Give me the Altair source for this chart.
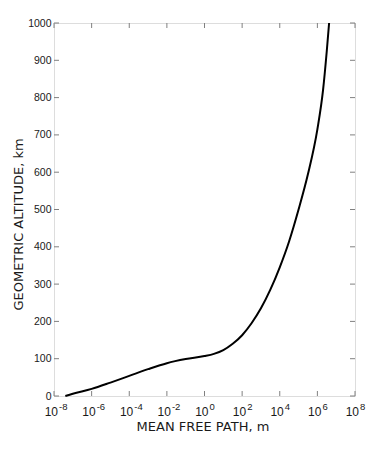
import altair as alt
import pandas as pd

# Curve: mean free path (m) vs geometric altitude (km)
mean_free_path = [4.0e-8, 1.0e-7, 1.0e-6, 1.0e-5, 1.0e-4, 1.0e-3, 1.0e-2, 1.0e-1,
                  1.0, 3.16, 10.0, 31.6, 100.0, 316.0, 1000.0, 3162.0, 1.0e4,
                  3.16e4, 1.0e5, 3.16e5, 1.0e6, 2.0e6, 3.16e6, 4.2e6]
altitude = [0, 6, 19, 36, 54, 72, 88, 99, 107, 113, 123, 140, 163, 195, 235,
            285, 345, 415, 500, 595, 715, 820, 925, 1000]

# Axis ticks / labels
x_ticks = [1e-8, 1e-6, 1e-4, 1e-2, 1e0, 1e2, 1e4, 1e6, 1e8]
x_exponents = ["-8", "-6", "-4", "-2", "0", "2", "4", "6", "8"]
y_ticks = [0, 100, 200, 300, 400, 500, 600, 700, 800, 900, 1000]

W, H = 301, 373
FRAME = "#808080"
INK = "#1a1a1a"

curve = pd.DataFrame({"mfp": mean_free_path, "alt": altitude})
xt = pd.DataFrame({"v": x_ticks, "exp": x_exponents, "base": ["10"] * len(x_ticks)})
yt = pd.DataFrame({"v": y_ticks})

xscale = alt.Scale(type="log", domain=[1e-8, 1e8], nice=False)
yscale = alt.Scale(domain=[0, 1000], nice=False, zero=False)

line = alt.Chart(curve).mark_line(color="black", strokeWidth=2, interpolate="monotone").encode(
    x=alt.X("mfp:Q", scale=xscale,
            axis=alt.Axis(title="MEAN FREE PATH, m", labels=False, ticks=False, domain=False,
                          grid=False, titleFont="DejaVu Sans", titleFontSize=13,
                          titleFontWeight="normal", titleColor=INK, titleX=W / 2 - 2,
                          titleY=34, titleBaseline="alphabetic")),
    y=alt.Y("alt:Q", scale=yscale,
            axis=alt.Axis(title="GEOMETRIC ALTITUDE, km", values=y_ticks, format="d",
                          ticks=False, domain=False, grid=False,
                          labelFont="Liberation Sans", labelFontSize=10.5,
                          labelColor=INK, labelPadding=3,
                          titleFont="DejaVu Sans", titleFontSize=13,
                          titleFontWeight="normal", titleColor=INK, titleX=-32,
                          titleY=201, titleBaseline="alphabetic",
                          titleAlign="center")),
)

bottom_ticks = alt.Chart(xt).mark_rule(color=FRAME, strokeWidth=1).encode(
    x=alt.X("v:Q", scale=xscale, axis=None), y=alt.value(H), y2=alt.value(H - 5))
top_ticks = alt.Chart(xt).mark_rule(color=FRAME, strokeWidth=1).encode(
    x=alt.X("v:Q", scale=xscale, axis=None), y=alt.value(0), y2=alt.value(5))
left_ticks = alt.Chart(yt).mark_rule(color=FRAME, strokeWidth=1).encode(
    y=alt.Y("v:Q", scale=yscale, axis=None), x=alt.value(0), x2=alt.value(5))
right_ticks = alt.Chart(yt).mark_rule(color=FRAME, strokeWidth=1).encode(
    y=alt.Y("v:Q", scale=yscale, axis=None), x=alt.value(W - 5), x2=alt.value(W))

base_labels = alt.Chart(xt).mark_text(
    align="right", baseline="alphabetic", dx=4, font="Liberation Sans", fontSize=12,
    color=INK).encode(
    x=alt.X("v:Q", scale=xscale, axis=None), y=alt.value(H + 20), text="base:N")
exp_labels = alt.Chart(xt).mark_text(
    align="left", baseline="alphabetic", dx=5, font="Liberation Sans", fontSize=9.5,
    color=INK).encode(
    x=alt.X("v:Q", scale=xscale, axis=None), y=alt.value(H + 14), text="exp:N")

chart = alt.layer(
    line, bottom_ticks, top_ticks, left_ticks, right_ticks, base_labels, exp_labels
).resolve_axis(x="independent", y="independent").properties(
    width=W, height=H,
    autosize=alt.AutoSizeParams(type="none"),
    padding={"left": 46, "top": 15, "right": 12, "bottom": 40},
).configure_view(stroke=FRAME, strokeWidth=1).configure(background="white")

chart.save("out.html", embed_options={"renderer": "svg", "actions": False})
